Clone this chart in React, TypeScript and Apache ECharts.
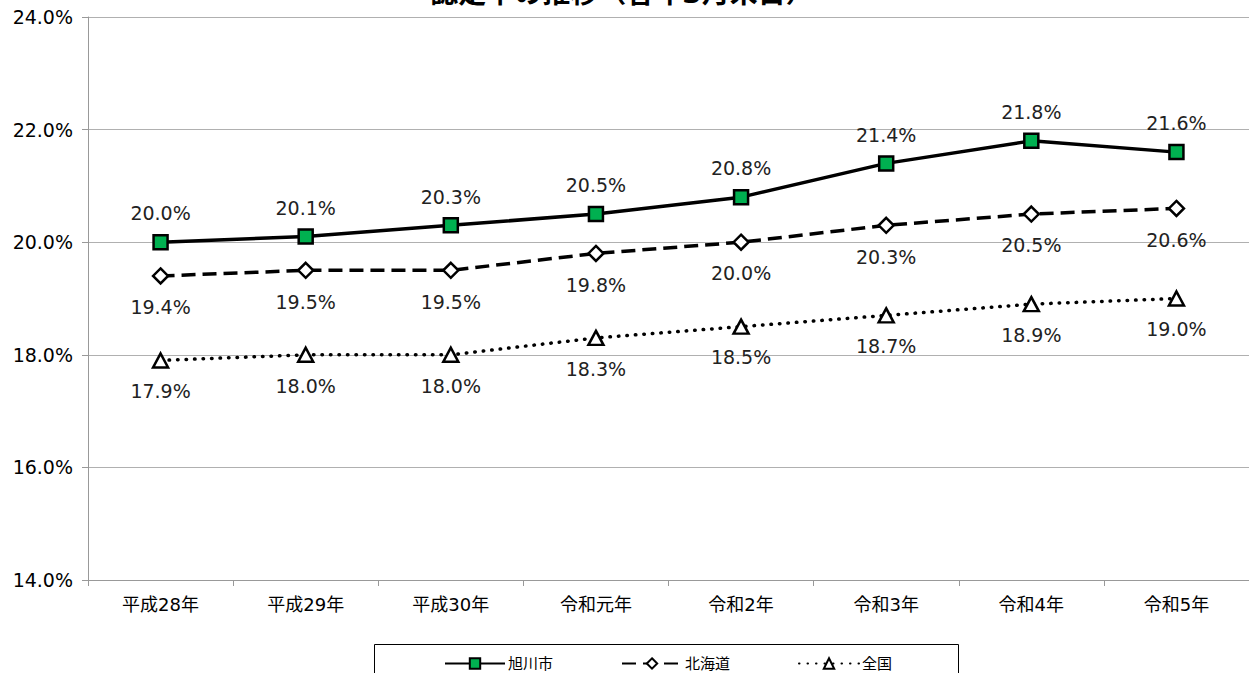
import React, { useEffect, useRef } from "react";
import * as echarts from "echarts";

const categories = ["平成28年", "平成29年", "平成30年", "令和元年", "令和2年", "令和3年", "令和4年", "令和5年"];
const asahikawa = [20.0, 20.1, 20.3, 20.5, 20.8, 21.4, 21.8, 21.6];
const hokkaido = [19.4, 19.5, 19.5, 19.8, 20.0, 20.3, 20.5, 20.6];
const zenkoku = [17.9, 18.0, 18.0, 18.3, 18.5, 18.7, 18.9, 19.0];
const seriesNames = ["旭川市", "北海道", "全国"];
const titleText = "認定率の推移（各年3月末日）";

const FONT = "'DejaVu Sans', 'Noto Sans CJK JP', sans-serif";

export default function App() {
  const ref = useRef<HTMLDivElement>(null);
  useEffect(() => {
    const chart = echarts.init(ref.current!, null, { renderer: "svg" });
    const fmt = (p: any) => `${Number(p.value).toFixed(1)}%`;
    chart.setOption({
      animation: false,
      textStyle: { fontFamily: FONT },
      graphic: [
        {
          type: "text",
          x: 622,
          y: -7,
          style: {
            text: titleText,
            font: `bold 28px ${FONT}`,
            fill: "#000",
            textAlign: "center",
            textVerticalAlign: "middle",
          },
        },
        {
          type: "rect",
          shape: { x: 374.5, y: 644.5, width: 584, height: 60 },
          style: { fill: "none", stroke: "#000", lineWidth: 1 },
        },
      ],
      grid: { left: 88, right: 0, top: 17, bottom: 93, containLabel: false },
      legend: {
        data: seriesNames,
        left: 439,
        top: 651,
        itemWidth: 60,
        itemHeight: 13,
        itemGap: 68,
        textStyle: { fontSize: 15, color: "#000", fontFamily: FONT, padding: [0, 0, 0, -2] },
      },
      xAxis: {
        type: "category",
        data: categories,
        boundaryGap: true,
        axisLine: { lineStyle: { color: "#999", width: 1 } },
        axisTick: { show: true, length: 6, lineStyle: { color: "#999" } },
        axisLabel: { color: "#000", fontSize: 18, margin: 15, fontFamily: FONT },
        splitLine: { show: false },
      },
      yAxis: {
        type: "value",
        min: 14,
        max: 24,
        interval: 2,
        axisLine: { show: true, lineStyle: { color: "#999", width: 1 } },
        axisTick: { show: true, length: 6, lineStyle: { color: "#999" } },
        axisLabel: {
          color: "#000",
          fontSize: 19,
          margin: 15,
          fontFamily: FONT,
          formatter: (v: number) => `${v.toFixed(1)}%`,
        },
        splitLine: { show: true, lineStyle: { color: "#b0b0b0", width: 1 } },
      },
      series: [
        {
          name: "全国",
          type: "line",
          data: zenkoku,
          symbol: "triangle",
          symbolSize: [15, 14],
          z: 3,
          lineStyle: { color: "#000", width: 3.5, type: [0.5, 8], cap: "round" },
          itemStyle: { color: "#fff", borderColor: "#000", borderWidth: 2.5 },
          label: { show: true, position: "bottom", distance: 13, fontSize: 19, color: "#222", formatter: fmt, fontFamily: FONT },
        },
        {
          name: "北海道",
          type: "line",
          data: hokkaido,
          symbol: "diamond",
          symbolSize: [15, 15],
          z: 4,
          lineStyle: { color: "#000", width: 3.5, type: [14, 7] },
          itemStyle: { color: "#fff", borderColor: "#000", borderWidth: 2.5 },
          label: { show: true, position: "bottom", distance: 13, fontSize: 19, color: "#222", formatter: fmt, fontFamily: FONT },
        },
        {
          name: "旭川市",
          type: "line",
          data: asahikawa,
          symbol: "rect",
          symbolSize: 14,
          z: 5,
          lineStyle: { color: "#000", width: 3.5, type: "solid" },
          itemStyle: { color: "#00B050", borderColor: "#000", borderWidth: 2.5 },
          label: { show: true, position: "top", distance: 11, fontSize: 19, color: "#222", formatter: fmt, fontFamily: FONT },
        },
      ],
    });
    return () => chart.dispose();
  }, []);
  return (
    <div
      ref={ref}
      style={{ position: "fixed", left: 0, top: 0, width: 1249, height: 673, background: "#fff" }}
    />
  );
}
